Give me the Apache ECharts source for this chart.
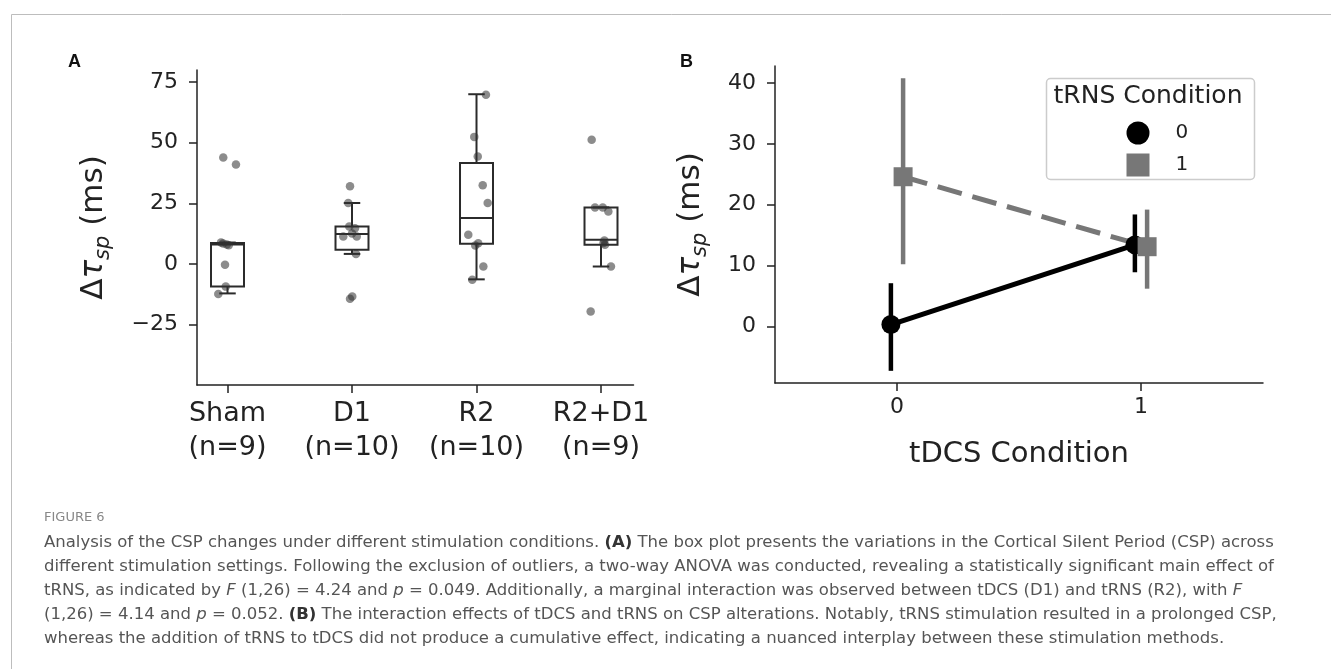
<!DOCTYPE html>
<html lang="en">
<head>
<meta charset="utf-8">
<title>Figure 6 - CSP changes</title>
<script src="https://cdn.jsdelivr.net/npm/echarts@6.0.0/dist/echarts.min.js"></script>
<style>
    html, body { margin: 0; padding: 0; background: #fff; }
    #main { width: 1331px; height: 669px; }
</style>
</head>
<body>
<div id="main"></div>
<script>
    // ---- panel A : box plot per stimulation group ----
    var groupLabels = ['Sham\n(n=9)', 'D1\n(n=10)', 'R2\n(n=10)', 'R2+D1\n(n=9)'];
    // [lower whisker, Q1, median, Q3, upper whisker]
    var boxStats = [
        [-12.2, -9.4, 8.0, 8.6, 8.8],
        [4.1, 5.8, 12.3, 15.4, 25.1],
        [-6.4, 8.3, 18.9, 41.6, 70.0],
        [-1.1, 7.9, 9.9, 23.3, 23.3]
    ];
    // subjects: [jitter, value]
    var shamPts = [[-0.034, 43.9], [0.068, 41.0], [-0.052, 8.8], [-0.035, 8.4], [-0.006, 8.0],
                   [-0.02, -0.4], [-0.014, -9.4], [-0.074, -12.4], [0.01, 7.7]];
    var d1Pts = [[-0.016, 32.0], [-0.03, 25.1], [-0.022, 15.4], [0.024, 14.7], [-0.07, 11.3],
                 [0.038, 11.3], [0.0, 12.5], [0.032, 4.1], [0.002, -13.5], [-0.016, -14.4]];
    var r2Pts = [[0.076, 69.8], [-0.018, 52.4], [0.01, 44.3], [0.05, 32.4], [0.09, 25.1],
                 [-0.066, 12.0], [0.014, 8.5], [-0.01, 7.6], [0.055, -1.1], [-0.034, -6.6]];
    var r2d1Pts = [[-0.075, 51.2], [-0.048, 23.3], [0.014, 23.3], [0.059, 21.6], [0.027, 9.6],
                   [0.032, 7.9], [0.02, 8.6], [0.08, -1.1], [-0.083, -19.7]];
    var yTicksA = [-25, 0, 25, 50, 75];

    // ---- panel B : interaction plot ----
    var tdcsLevels = [0, 1];
    var trns0Mean = [0.3, 13.4];
    var trns0Lo = [-7.3, 8.9];
    var trns0Hi = [7.1, 18.4];
    var trns1Mean = [24.6, 13.1];
    var trns1Lo = [10.2, 6.2];
    var trns1Hi = [40.8, 19.2];
    var yTicksB = [0, 10, 20, 30, 40];

    var FONT = 'DejaVu Sans';
    var INK = '#222';

    var allPts = [shamPts, d1Pts, r2Pts, r2d1Pts];
    var scatterData = [];
    allPts.forEach(function (pts, g) {
        pts.forEach(function (p) { scatterData.push([g + p[0], p[1]]); });
    });

    function renderBox(params, api) {
        var x = api.value(0);
        var lo = api.coord([x, api.value(1)]);
        var q1 = api.coord([x, api.value(2)]);
        var md = api.coord([x, api.value(3)]);
        var q3 = api.coord([x, api.value(4)]);
        var hi = api.coord([x, api.value(5)]);
        var half = api.size([0.265, 0])[0] / 2;
        var cap = half / 2;
        var cx = q1[0];
        var st = {stroke: '#2b2b2b', lineWidth: 2, fill: null};
        return {
            type: 'group',
            children: [
                {type: 'line', shape: {x1: cx, y1: q3[1], x2: cx, y2: hi[1]}, style: st},
                {type: 'line', shape: {x1: cx, y1: q1[1], x2: cx, y2: lo[1]}, style: st},
                {type: 'line', shape: {x1: cx - cap, y1: hi[1], x2: cx + cap, y2: hi[1]}, style: st},
                {type: 'line', shape: {x1: cx - cap, y1: lo[1], x2: cx + cap, y2: lo[1]}, style: st},
                {type: 'rect', shape: {x: cx - half, y: q3[1], width: 2 * half, height: q1[1] - q3[1]},
                    style: {stroke: '#2b2b2b', lineWidth: 2, fill: 'rgba(255,255,255,0)'}},
                {type: 'line', shape: {x1: cx - half, y1: md[1], x2: cx + half, y2: md[1]}, style: st}
            ]
        };
    }

    function errRenderer(color) {
        return function (params, api) {
            var a = api.coord([api.value(0), api.value(1)]);
            var b = api.coord([api.value(0), api.value(2)]);
            return {type: 'line', shape: {x1: a[0], y1: a[1], x2: b[0], y2: b[1]},
                style: {stroke: color, lineWidth: 4.5}};
        };
    }

    // matplotlib style minus sign
    function minus(v) { return String(v).replace('-', '\u2212'); }

    var yName = '{d|Δ}{t|τ}{s|sp}{d| (ms)}';
    var yNameRich = {
        d: {fontFamily: FONT, fontSize: 31, color: INK, lineHeight: 40},
        t: {fontFamily: FONT, fontSize: 31, fontStyle: 'italic', color: INK, lineHeight: 40},
        s: {fontFamily: FONT, fontSize: 21, fontStyle: 'italic', color: INK, lineHeight: 22, verticalAlign: 'bottom'}
    };
    var axisLine = {show: true, onZero: false, lineStyle: {color: INK, width: 1.5}};
    var tick = {length: 8, lineStyle: {color: INK, width: 1.5}};

    var caption = [
        'Analysis of the CSP changes under different stimulation conditions. {b|(A)} The box plot presents the variations in the Cortical Silent Period (CSP) across',
        'different stimulation settings. Following the exclusion of outliers, a two-way ANOVA was conducted, revealing a statistically significant main effect of',
        'tRNS, as indicated by {i|F} (1,26) = 4.24 and {i|p} = 0.049. Additionally, a marginal interaction was observed between tDCS (D1) and tRNS (R2), with {i|F}',
        '(1,26) = 4.14 and {i|p} = 0.052. {b|(B)} The interaction effects of tDCS and tRNS on CSP alterations. Notably, tRNS stimulation resulted in a prolonged CSP,',
        'whereas the addition of tRNS to tDCS did not produce a cumulative effect, indicating a nuanced interplay between these stimulation methods.'
    ];
    var capFont = 'DejaVu Sans';
    var capSize = 16.5;
    var captionGraphics = caption.map(function (line, i) {
        return {
            type: 'text', x: 44, y: 543 + i * 24, silent: true,
            style: {
                text: line, fontFamily: capFont, fontSize: capSize, fill: '#555', verticalAlign: 'middle',
                rich: {
                    b: {fontFamily: capFont, fontSize: capSize, fontWeight: 'bold', fill: '#333'},
                    i: {fontFamily: capFont, fontSize: capSize, fontStyle: 'italic', fill: '#555'}
                }
            }
        };
    });

    var myChart = echarts.init(document.getElementById('main'));
    var option = {
        animation: false,
        backgroundColor: '#fff',
        grid: [
            {left: 197, top: 70, width: 436.5, height: 315, containLabel: false, outerBoundsMode: 'none'},
            {left: 775, top: 66, width: 488, height: 317, containLabel: false, outerBoundsMode: 'none'}
        ],
        xAxis: [
            {
                type: 'value', gridIndex: 0, min: -0.245, max: 3.261,
                splitLine: {show: false}, axisLine: axisLine,
                axisTick: Object.assign({customValues: [0, 1, 2, 3]}, tick),
                axisLabel: {
                    customValues: [0, 1, 2, 3], margin: 12,
                    fontFamily: FONT, fontSize: 27, lineHeight: 34, color: INK,
                    formatter: function (v) { return groupLabels[Math.round(v)]; }
                }
            },
            {
                type: 'value', gridIndex: 1, min: -0.5, max: 1.5,
                splitLine: {show: false}, axisLine: axisLine,
                axisTick: Object.assign({customValues: tdcsLevels}, tick),
                axisLabel: {customValues: tdcsLevels, margin: 13, fontFamily: FONT, fontSize: 22, color: INK},
                name: 'tDCS Condition', nameLocation: 'middle', nameGap: 56,
                nameTextStyle: {fontFamily: FONT, fontSize: 29, color: INK, lineHeight: 30}
            }
        ],
        yAxis: [
            {
                type: 'value', gridIndex: 0, min: -50, max: 80,
                splitLine: {show: false}, axisLine: axisLine,
                axisTick: Object.assign({customValues: yTicksA}, tick),
                axisLabel: {customValues: yTicksA, margin: 19, fontFamily: FONT, fontSize: 22, color: INK,
                    formatter: minus},
                name: yName, nameLocation: 'middle', nameGap: 83,
                nameTextStyle: {rich: yNameRich}
            },
            {
                type: 'value', gridIndex: 1, min: -9.3, max: 42.8,
                splitLine: {show: false}, axisLine: axisLine,
                axisTick: Object.assign({customValues: yTicksB}, tick),
                axisLabel: {customValues: yTicksB, margin: 19, fontFamily: FONT, fontSize: 22, color: INK},
                name: yName, nameLocation: 'middle', nameGap: 64,
                nameTextStyle: {rich: yNameRich}
            }
        ],
        legend: {
            selectedMode: false, orient: 'vertical', left: 1121.5, top: 116.5, z: 20,
            itemWidth: 23, itemHeight: 23, itemGap: 9,
            textStyle: {fontFamily: FONT, fontSize: 20, color: INK, padding: [0, 0, 0, 21]},
            data: [{name: '0', icon: 'circle'}, {name: '1', icon: 'rect'}]
        },
        graphic: [
            {type: 'rect', left: 9, top: 12, silent: true, z: -1,
                shape: {x: 0, y: 0, width: 1400, height: 700},
                style: {fill: 'none', stroke: '#bdbdbd', lineWidth: 1}},
            {type: 'text', left: 68, top: 53, silent: true,
                style: {text: 'A', fontFamily: 'Liberation Sans', fontWeight: 'bold', fontSize: 18, fill: '#111'}},
            {type: 'text', left: 680, top: 53, silent: true,
                style: {text: 'B', fontFamily: 'Liberation Sans', fontWeight: 'bold', fontSize: 18, fill: '#111'}},
            {type: 'rect', left: 1044, top: 76, silent: true, z: 1,
                shape: {x: 0, y: 0, width: 208, height: 101, r: 4},
                style: {fill: 'none', stroke: '#cccccc', lineWidth: 1.5}},
            {type: 'text', x: 1148, y: 96, silent: true,
                style: {text: 'tRNS Condition', fontFamily: FONT, fontSize: 25, fill: INK,
                    align: 'center', verticalAlign: 'middle'}},
            {type: 'text', x: 44, y: 518, silent: true,
                style: {text: 'FIGURE 6', fontFamily: capFont, fontSize: 13, fill: '#888', verticalAlign: 'middle'}}
        ].concat(captionGraphics),
        series: [
            {
                name: 'box', type: 'custom', xAxisIndex: 0, yAxisIndex: 0,
                renderItem: renderBox,
                encode: {x: 0, y: [1, 2, 3, 4, 5]},
                data: boxStats.map(function (s, i) { return [i].concat(s); })
            },
            {
                name: 'subjects', type: 'scatter', xAxisIndex: 0, yAxisIndex: 0,
                symbolSize: 8.5, itemStyle: {color: 'rgba(50,50,50,0.7)'},
                data: scatterData
            },
            {
                name: 'err0', type: 'custom', xAxisIndex: 1, yAxisIndex: 1,
                renderItem: errRenderer('#000'), encode: {x: 0, y: [1, 2]},
                data: tdcsLevels.map(function (x, i) { return [x - 0.025, trns0Lo[i], trns0Hi[i]]; })
            },
            {
                name: '0', type: 'line', xAxisIndex: 1, yAxisIndex: 1,
                symbol: 'circle', symbolSize: 19, showAllSymbol: true,
                lineStyle: {color: '#000', width: 5},
                itemStyle: {color: '#000', borderWidth: 0},
                data: tdcsLevels.map(function (x, i) { return [x - 0.025, trns0Mean[i]]; })
            },
            {
                name: 'err1', type: 'custom', xAxisIndex: 1, yAxisIndex: 1,
                renderItem: errRenderer('#777'), encode: {x: 0, y: [1, 2]},
                data: tdcsLevels.map(function (x, i) { return [x + 0.025, trns1Lo[i], trns1Hi[i]]; })
            },
            {
                name: '1', type: 'line', xAxisIndex: 1, yAxisIndex: 1,
                symbol: 'rect', symbolSize: 19, showAllSymbol: true,
                lineStyle: {color: '#777', width: 5, type: [25, 11]},
                itemStyle: {color: '#777', borderWidth: 0},
                data: tdcsLevels.map(function (x, i) { return [x + 0.025, trns1Mean[i]]; })
            }
        ]
    };
    myChart.setOption(option);
</script>
</body>
</html>
